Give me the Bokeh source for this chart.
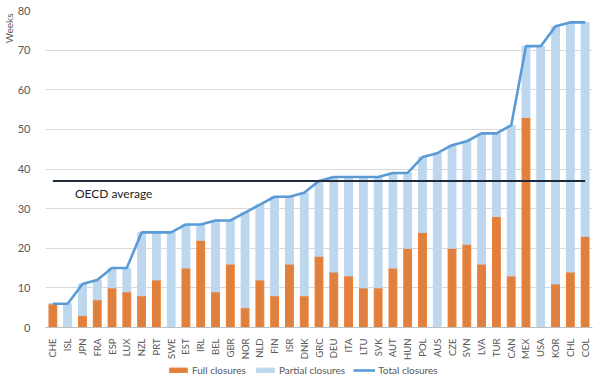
from math import pi
from bokeh.plotting import figure
from bokeh.layouts import column
from bokeh.models import FactorRange, Range1d, Legend, LegendItem, Title, FixedTicker
from bokeh.core.properties import value
from bokeh.embed import file_html
from bokeh.resources import INLINE

countries = ["CHE", "ISL", "JPN", "FRA", "ESP", "LUX", "NZL", "PRT", "SWE", "EST",
             "IRL", "BEL", "GBR", "NOR", "NLD", "FIN", "ISR", "DNK", "GRC", "DEU",
             "ITA", "LTU", "SVK", "AUT", "HUN", "POL", "AUS", "CZE", "SVN", "LVA",
             "TUR", "CAN", "MEX", "USA", "KOR", "CHL", "COL"]
total_closures = [6, 6, 11, 12, 15, 15, 24, 24, 24, 26,
                  26, 27, 27, 29, 31, 33, 33, 34, 37, 38,
                  38, 38, 38, 39, 39, 43, 44, 46, 47, 49,
                  49, 51, 71, 71, 76, 77, 77]
full_closures = [6, 0, 3, 7, 10, 9, 8, 12, 0, 15,
                 22, 9, 16, 5, 12, 8, 16, 8, 18, 14,
                 13, 10, 10, 15, 20, 24, 0, 20, 21, 16,
                 28, 13, 53, 0, 11, 14, 23]
partial_closures = [t - f for t, f in zip(total_closures, full_closures)]
oecd_average = 37
y_ticks = [0, 10, 20, 30, 40, 50, 60, 70, 80]

FONT = "Lato"
GREY = "#595959"
ORANGE_FILL, ORANGE_LINE = "#E0803F", "#ED7D31"
BLUE_LIGHT = "#BDD7EE"
BLUE_LINE = "#5B9BD5"
W = 596

p = figure(x_range=FactorRange(*countries, range_padding=0),
           y_range=Range1d(0, 80),
           width=W, height=362, output_backend="svg", toolbar_location=None,
           min_border_left=45, min_border_right=4, min_border_top=10, min_border_bottom=32)
p.outline_line_color = None

src = dict(x=countries, full=full_closures, partial=partial_closures, total=total_closures)
p.vbar_stack(["full", "partial"], x="x", width=0.53, source=src,
             fill_color=[ORANGE_FILL, BLUE_LIGHT],
             line_color=[ORANGE_LINE, BLUE_LIGHT], line_width=1)
p.line(countries, total_closures, line_color=BLUE_LINE, line_width=2.6)
p.line(countries, [oecd_average] * len(countries), line_color="#1F2A3C", line_width=2)
p.text(x=["CHE"], y=[oecd_average - 3.3], text=["OECD average"], x_offset=22,
       text_font=value(FONT), text_font_size="12px", text_color="#222222",
       text_baseline="middle", text_align="left")

p.xgrid.grid_line_color = None
p.ygrid.grid_line_color = "#D9D9D9"
p.yaxis.ticker = FixedTicker(ticks=y_ticks)
p.yaxis.axis_line_color = None
p.yaxis.major_tick_line_color = None
p.yaxis.minor_tick_line_color = None
p.yaxis.major_label_text_font = FONT
p.yaxis.major_label_text_font_size = "11px"
p.yaxis.major_label_text_color = GREY
p.yaxis.major_label_standoff = 9

p.xaxis.axis_line_color = "#BFBFBF"
p.xaxis.major_tick_line_color = None
p.xaxis.major_label_orientation = pi / 2
p.xaxis.major_label_text_font = FONT
p.xaxis.major_label_text_font_size = "9.5px"
p.xaxis.major_label_text_color = GREY
p.xaxis.major_label_standoff = 5

p.add_layout(Title(text="Weeks", align="right", text_font=FONT, text_font_size="10px",
                   text_color=GREY, text_font_style="normal", standoff=0, offset=3), "left")

# legend strip below the chart: proxies reuse the data but lie far outside the visible range
lg = figure(width=W, height=14, output_backend="svg", toolbar_location=None,
            x_range=Range1d(1000, 1001), y_range=Range1d(1000, 1001),
            x_axis_type=None, y_axis_type=None, min_border=0)
lg.outline_line_color = None
lg.grid.visible = False
l_full = lg.vbar(x="total", top="total", width=0.5, source=src,
                 fill_color=ORANGE_FILL, line_color=ORANGE_LINE)
l_partial = lg.vbar(x="total", top="total", width=0.5, source=src,
                    fill_color=BLUE_LIGHT, line_color=BLUE_LIGHT)
l_total = lg.line(x="total", y="total", source=src, line_color=BLUE_LINE, line_width=2.6)
legend = Legend(items=[LegendItem(label="Full closures", renderers=[l_full]),
                       LegendItem(label="Partial closures", renderers=[l_partial]),
                       LegendItem(label="Total closures", renderers=[l_total])],
                orientation="horizontal", location=(122, 0),
                glyph_width=22, glyph_height=6, spacing=8, padding=0, margin=0,
                label_text_font=FONT, label_text_font_size="10px", label_text_color=GREY,
                label_standoff=3, border_line_color=None, background_fill_alpha=0)
lg.add_layout(legend, "center")

layout = column(p, lg, spacing=0)
open("out.html", "w").write(file_html(layout, INLINE))
